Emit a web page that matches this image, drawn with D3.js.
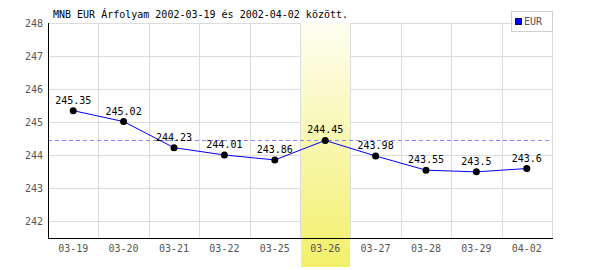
<!DOCTYPE html>
<html><head><meta charset="utf-8">
<script src="https://cdn.jsdelivr.net/npm/d3@7"></script>
<style>body{margin:0;background:#fff}</style>
</head><body>
<script>
const categories = ["03-19","03-20","03-21","03-22","03-25","03-26","03-27","03-28","03-29","04-02"];
const values = [245.35,245.02,244.23,244.01,243.86,244.45,243.98,243.55,243.5,243.6];
const labels = ["245.35","245.02","244.23","244.01","243.86","244.45","243.98","243.55","243.5","243.6"];
const yTicks = [242,243,244,245,246,247,248];
const highlight = "03-26";
const refValue = 244.45;
const title = "MNB EUR Árfolyam 2002-03-19 és 2002-04-02 között.";
const seriesName = "EUR";

const W=600,H=270, L=48, R=552, T=23, B=238;
const font = "'DejaVu Sans Mono', monospace";
const svg = d3.select("body").append("svg").attr("width",W).attr("height",H);
const x = d3.scaleBand().domain(categories).range([L,R]);
const y = d3.scaleLinear().domain([241.5,248]).range([B,T]);

const defs = svg.append("defs");
const g = defs.append("linearGradient").attr("id","hl").attr("x1",0).attr("y1",0).attr("x2",0).attr("y2",1);
g.append("stop").attr("offset","0%").attr("stop-color","#fefef2");
g.append("stop").attr("offset","100%").attr("stop-color","#f2f06a");

// grid
svg.append("g").selectAll("line").data(yTicks).join("line")
  .attr("x1",L).attr("x2",R).attr("y1",d=>Math.round(y(d))+0.5).attr("y2",d=>Math.round(y(d))+0.5)
  .attr("stroke","#dcdcdc");
svg.append("g").selectAll("line").data(categories).join("line")
  .attr("x1",d=>Math.round(x(d)+x.bandwidth())+0.5).attr("x2",d=>Math.round(x(d)+x.bandwidth())+0.5)
  .attr("y1",T).attr("y2",B).attr("stroke","#dcdcdc");

// highlight band
svg.append("rect").attr("x",Math.round(x(highlight))+1).attr("width",Math.round(x.bandwidth())-1)
  .attr("y",T).attr("height",H-3-T).attr("fill","url(#hl)");

// reference dashed line
svg.append("line").attr("x1",L).attr("x2",R)
  .attr("y1",Math.round(y(refValue))+0.5).attr("y2",Math.round(y(refValue))+0.5)
  .attr("stroke","#8888ff").attr("stroke-dasharray","4,3");

// axes
svg.append("line").attr("x1",L+0.5).attr("x2",L+0.5).attr("y1",T).attr("y2",B).attr("stroke","#000");
svg.append("line").attr("x1",L).attr("x2",R+1).attr("y1",B+0.5).attr("y2",B+0.5).attr("stroke","#000");

// y tick labels
svg.append("g").selectAll("text").data(yTicks).join("text")
  .attr("x",43).attr("y",d=>y(d)+4).attr("text-anchor","end")
  .attr("font-family",font).attr("font-size",10).attr("fill","#555").text(d=>d);
// x tick labels
svg.append("g").selectAll("text").data(categories).join("text")
  .attr("x",d=>x(d)+x.bandwidth()/2).attr("y",252).attr("text-anchor","middle")
  .attr("font-family",font).attr("font-size",10).attr("fill","#555").text(d=>d);

// line
const pts = categories.map((c,i)=>[x(c)+x.bandwidth()/2, y(values[i])]);
svg.append("path").attr("d",d3.line()(pts)).attr("fill","none").attr("stroke","#0000ff").attr("stroke-width",1);
svg.append("g").selectAll("circle").data(pts).join("circle")
  .attr("cx",d=>d[0]).attr("cy",d=>d[1]).attr("r",3.5).attr("fill","#000");
svg.append("g").selectAll("text").data(pts).join("text")
  .attr("x",d=>d[0]).attr("y",d=>d[1]-7).attr("text-anchor","middle")
  .attr("font-family",font).attr("font-size",10).attr("fill","#000").text((d,i)=>labels[i]);

// title
svg.append("text").attr("x",53).attr("y",18).attr("font-family",font).attr("font-size",10)
  .attr("fill","#000").text(title);

// legend
svg.append("rect").attr("x",511.5).attr("y",11.5).attr("width",41).attr("height",20)
  .attr("fill","#fff").attr("stroke","#d0d0d0");
svg.append("rect").attr("x",515.5).attr("y",18.5).attr("width",6).attr("height",6)
  .attr("fill","#0000ff").attr("stroke","#000080");
svg.append("text").attr("x",524).attr("y",25).attr("font-family",font).attr("font-size",10)
  .attr("fill","#555").text(seriesName);
</script>
</body></html>
